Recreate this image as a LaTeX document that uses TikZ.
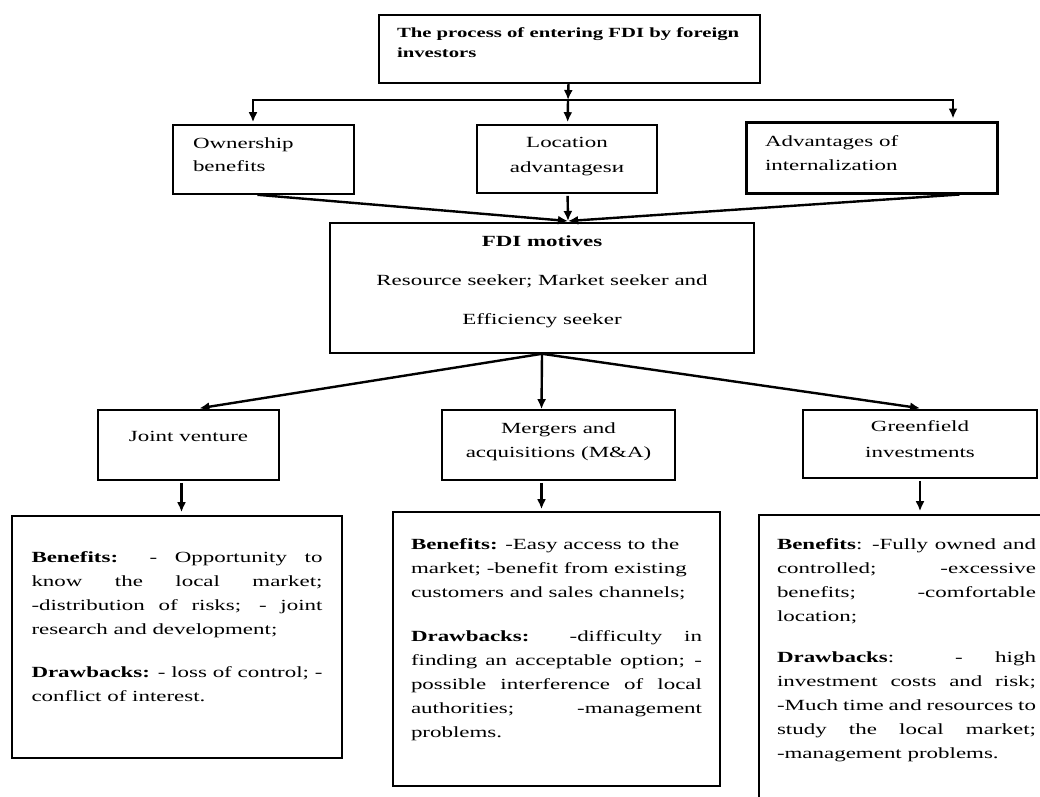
\documentclass[tikz,border=0pt]{standalone}
\usepackage{fontspec}
\setmainfont{Liberation Serif}[FakeStretch=1.48]
\usetikzlibrary{arrows.meta}
\newcommand{\cell}[4]{\parbox[c][#2][t]{#1}{\vspace*{#3}\hyphenpenalty=10000\exhyphenpenalty=10000\tolerance=10000 #4}}
\tikzset{
	box/.style={draw, line width=1.6pt, inner ysep=0pt, inner xsep=18pt, font=\fontsize{15.5pt}{24pt}\selectfont},
	heavy/.style={box, line width=3pt},
	arr/.style={-{Latex[length=10pt,width=9pt]}, line width=2.4pt},
	link/.style={line width=2.4pt, line cap=rect},
}
\begin{document}
\begin{tikzpicture}[x=1pt, y=-1pt]
		\useasboundingbox (0,0) rectangle (1040,796);
		\node (entry) at (569.5,49) [box, font=\bfseries\fontsize{14pt}{20pt}\selectfont] {\cell{345pt}{68pt}{13pt}{\raggedright The process of entering FDI by foreign\newline investors}};
		\node (own) at (263.5,159.5) [box, inner xsep=20pt] {\cell{141pt}{69pt}{13pt}{\raggedright\fontsize{15.5pt}{23pt}\selectfont Ownership\newline benefits}};
		\node (loc) at (567,159) [box] {\cell{144pt}{68pt}{12pt}{\centering\fontsize{15.5pt}{25pt}\selectfont Location\\ advantagesи}};
		\node (adv) at (871.5,157.5) [heavy, inner xsep=19pt] {\cell{213pt}{71pt}{14pt}{\raggedright Advantages of\newline internalization}};
		\node (motives) at (542,288) [box, inner xsep=12pt] {\cell{400pt}{130pt}{13pt}{\centering\fontsize{15.5pt}{39pt}\selectfont \textbf{FDI motives}\\ Resource seeker; Market seeker and\\ Efficiency seeker}};
		
		\node (jv) at (188.5,445) [box, inner xsep=10pt] {\cell{161pt}{70pt}{21pt}{\centering Joint venture}};
		\node (ma) at (558.5,445) [box, inner xsep=10pt] {\cell{213pt}{70pt}{13pt}{\centering Mergers and\\ acquisitions (M\&A)}};
		\node (gf) at (920,444) [box, inner xsep=10pt] {\cell{214pt}{68pt}{11pt}{\centering\fontsize{15.5pt}{26pt}\selectfont Greenfield\\ investments}};
		
		\node (jvd) at (177,637) [box, inner xsep=19.5pt] {\cell{291pt}{242pt}{36pt}{\textbf{Benefits:} - Opportunity to\linebreak know the local market;\linebreak -distribution of risks; - joint\linebreak research and development;\par\vspace{19pt}
			\textbf{Drawbacks:} - loss of control; -\linebreak conflict of interest.}};
		\node (mad) at (556.5,649) [box] {\cell{291pt}{274pt}{27pt}{{\raggedright\textbf{Benefits:} -Easy access to the\\ market; -benefit from existing\\ customers and sales channels;\par}\vspace{20pt}
			\textbf{Drawbacks:} -difficulty in\linebreak finding an acceptable option; -\linebreak possible interference of local\linebreak authorities; -management\linebreak problems.}};
		\node (gfd) at (906.5,667.5) [box] {\cell{259pt}{305pt}{24pt}{\textbf{Benefits}: -Fully owned and\linebreak controlled; -excessive\linebreak benefits; -comfortable\linebreak location;\par\vspace{17pt}
			\textbf{Drawbacks}: - high\linebreak investment costs and risk;\linebreak -Much time and resources to\linebreak study the local market;\linebreak -management problems.}};
		
		\coordinate (split) at (568,100);
		\coordinate (splitL) at (253,100);
		\coordinate (splitR) at (953,100);
		\coordinate (meet) at (568,221);
		
		\draw [arr] (entry) -- (split);
		\draw [link] (splitL) -- (splitR);
		\draw [arr, shorten >=2pt] (splitL) -- (splitL |- own.north);
		\draw [arr, shorten >=2pt] (split) -- (loc);
		\draw [arr, shorten >=2pt] (splitR) -- (splitR |- adv.north);
		
		\draw [arr] ([xshift=-6pt]own.south) -- (meet);
		\draw [arr, shorten <=2pt] (loc) -- (meet);
		\draw [arr] ([xshift=88pt]adv.south) -- (meet);
		
		\draw [arr, shorten >=6pt] (motives.south) -- ([xshift=5pt]jv.north);
		\draw [arr] (motives.south) -- ([xshift=-17pt]ma.north);
		\draw [arr, shorten >=7pt] (motives.south) -- ([xshift=7pt]gf.north);
		
		\draw [arr, shorten <=2pt, shorten >=3pt] ([xshift=-7pt]jv.south) -- ([xshift=-7pt]jv.south |- jvd.north);
		\draw [arr, shorten <=2pt, shorten >=2pt] ([xshift=-17pt]ma.south) -- ([xshift=-17pt]ma.south |- mad.north);
		\draw [arr, shorten <=2pt, shorten >=3pt] (gf.south) -- (gf.south |- gfd.north);
\end{tikzpicture}
\end{document}
